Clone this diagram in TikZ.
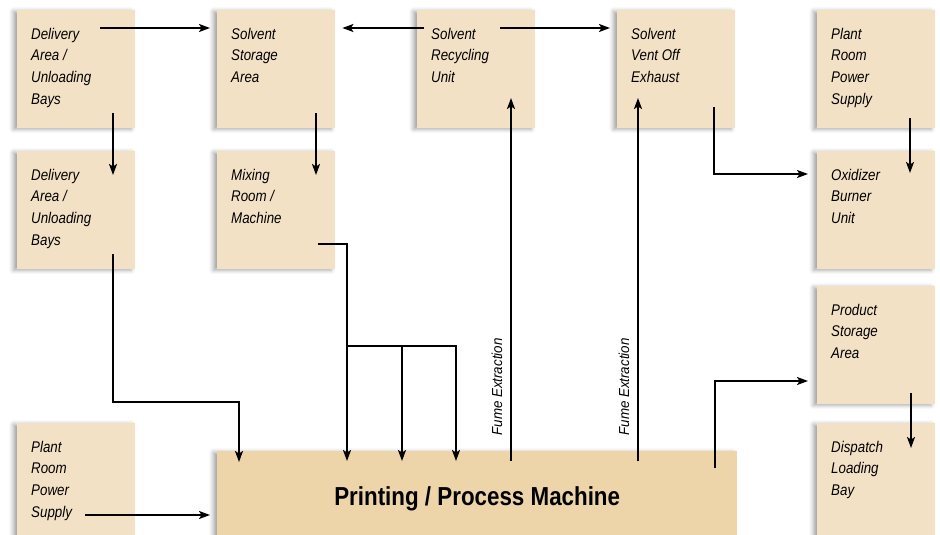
\documentclass[tikz,border=0pt]{standalone}
\usepackage{fontspec}
\setmainfont{Liberation Sans}[FakeStretch=0.86]
\newfontfamily\fumefont{Liberation Sans}[FakeStretch=0.92]
\usetikzlibrary{arrows.meta,shadows.blur,calc}

\definecolor{boxfill}{RGB}{243,225,198}
\definecolor{machinefill}{RGB}{237,212,169}

\tikzset{
  softshadow/.style={blur shadow={shadow xshift=-4pt, shadow yshift=-1pt,
      shadow blur radius=4pt, shadow opacity=35}},
  area/.style={fill=boxfill, draw=none, anchor=north west, inner sep=0pt,
      minimum width=118pt, minimum height=118pt, softshadow,
      label={[areatext]north west:{\strut#1}}},
  areatext/.style={anchor=north west, align=left, inner sep=0pt,
      xshift=14pt, yshift=-13.8pt,
      font=\fontsize{15.5}{21.7}\selectfont\itshape},
  machine/.style={fill=machinefill, draw=none, anchor=north west, inner sep=0pt,
      minimum width=520pt, minimum height=96pt, softshadow,
      font=\fontsize{26}{30}\selectfont\bfseries},
  flow/.style={line width=1.7pt},
  arr/.style={flow, -{Stealth[length=11pt, width=8pt, inset=2.5pt]}},
  fume/.style={rotate=90, anchor=south, inner sep=8pt,
      font=\fumefont\fontsize{14.5}{16}\selectfont\itshape},
}

\begin{document}
\begin{tikzpicture}[x=1pt, y=-1pt]
  \useasboundingbox (0,0) rectangle (940,535);

  % upper row
  \node[area={Delivery\\Area /\\Unloading\\Bays}] (A) at (17,10) {};
  \node[area={Solvent\\Storage\\Area}] (C) at (217,10) {};
  \node[area={Solvent\\Recycling\\Unit}] (E) at (417,10) {};
  \node[area={Solvent\\Vent Off\\Exhaust}] (F) at (617,10) {};
  \node[area={Plant\\Room\\Power\\Supply}] (G) at (817,10) {};

  % second row
  \node[area={Delivery\\Area /\\Unloading\\Bays}] (B) at (17,151) {};
  \node[area={Mixing\\Room /\\Machine}] (D) at (217,151) {};
  \node[area={Oxidizer\\Burner\\Unit}] (Ox) at (817,151) {};

  % right column, lower part
  \node[area={Product\\Storage\\Area}] (P) at (817,286) {};
  \node[area={Dispatch\\Loading\\Bay}] (Dp) at (817,423) {};

  % bottom row
  \node[area={Plant\\Room\\Power\\Supply}] (L) at (17,423) {};
  \node[machine] (M) at (217,451) {Printing / Process Machine};

  % top row flows
  \draw[arr] ($(A.north west)+(83,18)$) -- ($(C.north west)+(-7,18)$);
  \draw[arr] ($(E.north west)+(7,18)$) -- ($(C.north east)+(7,18)$);
  \draw[arr] ($(E.north west)+(83,18)$) -- ($(F.north west)+(-7,18)$);

  % downward flows between rows
  \draw[arr] ($(A.north west)+(96,103)$) -- ($(B.north west)+(96,24)$);
  \draw[arr] ($(C.north west)+(99,103)$) -- ($(D.north west)+(99,24)$);
  \draw[arr] ($(G.north west)+(93,108)$) -- ($(Ox.north west)+(93,22)$);
  \draw[arr] ($(F.north west)+(97,97)$) |- ($(Ox.north west)+(-9,23)$);

  % feeds into the machine
  \draw[arr] ($(B.north west)+(96,103)$) -- ++(0,148) -| ($(M.north west)+(22,11)$);
  \draw[arr] ($(D.north west)+(101,93)$) -| ($(M.north west)+(130,10)$);
  \draw[arr] ($(M.north west)+(130,-105)$) -| ($(M.north west)+(239,10)$);
  \draw[arr] ($(M.north west)+(185,-105)$) -- ($(M.north west)+(185,10)$);
  \draw[arr] ($(L.north west)+(68,92)$) -- ($(M.north west)+(-7,64)$);

  % fume extraction
  \draw[arr] ($(M.north west)+(294,10)$) -- node[fume, pos=0.204] {Fume Extraction}
             ($(E.north west)+(94,88)$);
  \draw[arr] ($(M.north west)+(421,10)$) -- node[fume, pos=0.204] {Fume Extraction}
             ($(F.north west)+(21,88)$);

  % product out
  \draw[arr] ($(M.north west)+(498,17)$) |- ($(P.north west)+(-9,95)$);
  \draw[arr] ($(P.north west)+(94,107)$) -- ($(Dp.north west)+(94,25)$);
\end{tikzpicture}
\end{document}
